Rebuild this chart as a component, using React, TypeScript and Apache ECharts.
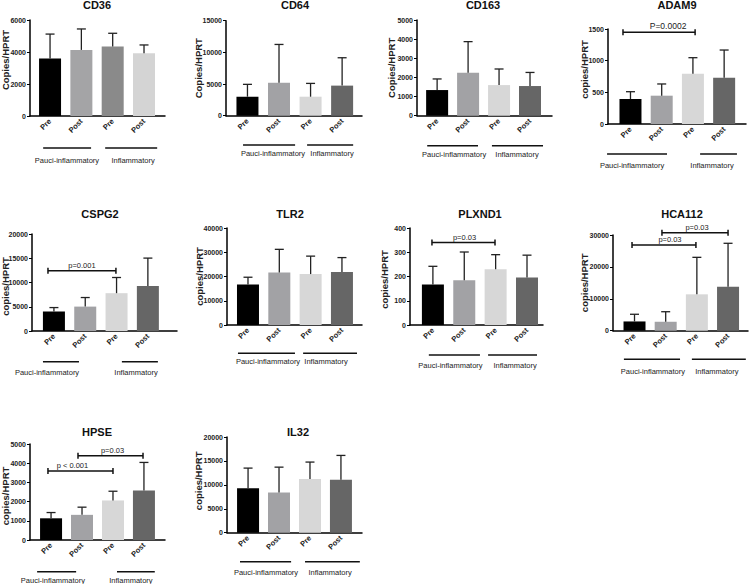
import React, { useEffect, useRef } from "react";
import * as echarts from "echarts";

// ---------- data ----------
const PANELS = ["CD36", "CD64", "CD163", "ADAM9", "CSPG2", "TLR2", "PLXND1", "HCA112", "HPSE", "IL32"];
const CATEGORIES = ["Pre", "Post", "Pre", "Post"];
const GROUPS = ["Pauci-inflammatory", "Inflammatory"];
const Y_NAMES = [
  "Copies/HPRT", "Copies/HPRT", "Copies/HPRT", "copies/HPRT", "copies/HPRT",
  "copies/HPRT", "copies/HPRT", "copies/HPRT", "copies/HPRT", "copies/HPRT",
];
const Y_MAX = [6000, 15000, 5000, 1500, 20000, 40000, 400, 30000, 5000, 20000];
const Y_STEP = [2000, 5000, 1000, 500, 5000, 10000, 100, 10000, 1000, 5000];

const CD36_MEAN = [3600, 4130, 4350, 3920];
const CD36_SD = [1520, 1310, 820, 520];
const CD64_MEAN = [3000, 5200, 3000, 4750];
const CD64_SD = [1950, 6050, 2100, 4400];
const CD163_MEAN = [1340, 2250, 1600, 1550];
const CD163_SD = [580, 1620, 840, 710];
const ADAM9_MEAN = [395, 447, 795, 732];
const ADAM9_SD = [115, 185, 252, 436];
const CSPG2_MEAN = [4000, 5030, 7800, 9300];
const CSPG2_SD = [830, 1870, 3230, 5730];
const TLR2_MEAN = [16700, 21600, 21000, 21900];
const TLR2_SD = [3000, 9600, 7400, 5900];
const PLXND1_MEAN = [167, 185, 230, 196];
const PLXND1_SD = [75, 116, 60, 92];
const HCA112_MEAN = [2900, 2800, 11400, 13800];
const HCA112_SD = [2250, 3150, 11600, 13600];
const HPSE_MEAN = [1130, 1310, 2060, 2580];
const HPSE_SD = [300, 400, 480, 1460];
const IL32_MEAN = [9300, 8400, 11200, 11050];
const IL32_SD = [4200, 5300, 3560, 5100];

// significance brackets: [from, to, height, label]
const ADAM9_SIG: [number, number, number, string][] = [[-0.24, 2.07, 1448, "P=0.0002"]];
const CSPG2_SIG: [number, number, number, string][] = [[-0.19, 1.98, 12400, "p=0.001"]];
const PLXND1_SIG: [number, number, number, string][] = [[-0.03, 1.98, 340, "p=0.03"]];
const HCA112_SIG: [number, number, number, string][] = [
  [-0.08, 1.97, 26900, "p=0.03"],
  [0.88, 3.0, 30700, "p=0.03"],
];
const HPSE_SIG: [number, number, number, string][] = [
  [-0.1, 2.0, 3600, "p < 0.001"],
  [0.87, 2.97, 4390, "p=0.03"],
];

const MEANS = [CD36_MEAN, CD64_MEAN, CD163_MEAN, ADAM9_MEAN, CSPG2_MEAN, TLR2_MEAN, PLXND1_MEAN, HCA112_MEAN, HPSE_MEAN, IL32_MEAN];
const SDS = [CD36_SD, CD64_SD, CD163_SD, ADAM9_SD, CSPG2_SD, TLR2_SD, PLXND1_SD, HCA112_SD, HPSE_SD, IL32_SD];
const SIGS = [[], [], [], ADAM9_SIG, CSPG2_SIG, [], PLXND1_SIG, HCA112_SIG, HPSE_SIG, []] as [number, number, number, string][][];

// ---------- layout / style ----------
const FONT = "'Liberation Sans', Arial, sans-serif";
const COLORS_A = ["#000000", "#a4a4a6", "#8a8a8a", "#d4d4d4"];
const COLORS_B = ["#000000", "#a2a2a5", "#d7d7d7", "#666666"];

type Lay = {
  l: number; r: number; t: number; b: number; min: number; max: number;
  tx: number; ty: number; ng: number; nUp: number; lines: number[][]; labels: number[];
  lineDy: number; labelDy: number; colors: string[]; sigFont: number; sigDx: number[];
};
const LAYOUT: Lay[] = [
  { l: 30, r: 165, t: 20, b: 116, min: -0.64, max: 3.67, tx: 97, ty: -1, ng: 19.5, nUp: 8, lines: [[-0.22, 1.31], [1.76, 3.42]], labels: [0.54, 2.65], lineDy: 32, labelDy: 44, colors: COLORS_A, sigFont: 7.5, sigDx: [] },
  { l: 226, r: 362, t: 20.7, b: 115.7, min: -0.68, max: 3.63, tx: 295, ty: -1, ng: 23, nUp: 0, lines: [[-0.14, 1.51], [1.89, 3.35]], labels: [0.81, 2.68], lineDy: 29.3, labelDy: 37.3, colors: COLORS_B, sigFont: 7.5, sigDx: [] },
  { l: 417, r: 552, t: 20, b: 115.7, min: -0.65, max: 3.71, tx: 483, ty: -1, ng: 21, nUp: 0, lines: [[-0.32, 1.32], [1.77, 3.42]], labels: [0.55, 2.58], lineDy: 30, labelDy: 38.3, colors: COLORS_B, sigFont: 7.5, sigDx: [] },
  { l: 608, r: 746, t: 29, b: 124, min: -0.72, max: 3.7, tx: 677, ty: -1, ng: 18.5, nUp: 7, lines: [[-0.75, 1.17], [2.23, 3.41]], labels: [0.05, 2.61], lineDy: 30, labelDy: 41, colors: COLORS_B, sigFont: 8.5, sigDx: [9] },
  { l: 32, r: 177, t: 234, b: 331, min: -0.7, max: 3.93, tx: 100, ty: 208, ng: 21.5, nUp: -4, lines: [[-0.35, 0.8], [2.17, 3.32]], labels: [-0.22, 2.62], lineDy: 30.7, labelDy: 41, colors: COLORS_B, sigFont: 7.5, sigDx: [0] },
  { l: 227, r: 362, t: 228, b: 325, min: -0.67, max: 3.64, tx: 290, ty: 208, ng: 22.5, nUp: 0, lines: [[-0.32, 1.5], [1.76, 3.48]], labels: [0.64, 2.49], lineDy: 28.3, labelDy: 36.7, colors: COLORS_B, sigFont: 7.5, sigDx: [] },
  { l: 410, r: 543, t: 228, b: 325, min: -0.73, max: 3.51, tx: 480, ty: 208, ng: 20.5, nUp: -3, lines: [[-0.13, 1.5], [1.76, 3.32]], labels: [0.56, 2.62], lineDy: 30, labelDy: 40, colors: COLORS_B, sigFont: 7.5, sigDx: [1] },
  { l: 613, r: 748, t: 235, b: 330.7, min: -0.69, max: 3.64, tx: 682, ty: 208, ng: 23.5, nUp: 0, lines: [[-0.34, 1.46], [1.84, 3.57]], labels: [0.59, 2.64], lineDy: 28.6, labelDy: 41, colors: COLORS_B, sigFont: 7.5, sigDx: [6, 2] },
  { l: 30, r: 165, t: 444, b: 540, min: -0.68, max: 3.68, tx: 97, ty: 426, ng: 19.5, nUp: -4, lines: [[-0.45, 0.81], [2.13, 3.35]], labels: [0.06, 2.58], lineDy: 31.7, labelDy: 40, colors: COLORS_B, sigFont: 7.5, sigDx: [-8, 2] },
  { l: 227, r: 362, t: 437, b: 532.7, min: -0.68, max: 3.68, tx: 298, ty: 426, ng: 23.5, nUp: 4, lines: [[-0.26, 1.39], [1.84, 3.61]], labels: [0.58, 2.65], lineDy: 29, labelDy: 40, colors: COLORS_B, sigFont: 7.5, sigDx: [] },
];

function buildOption() {
  const grid: any[] = [];
  const xAxis: any[] = [];
  const yAxis: any[] = [];
  const series: any[] = [];
  const title: any[] = [];

  PANELS.forEach((name, i) => {
    const L = LAYOUT[i];
    title.push({
      text: name, left: L.tx, top: L.ty, textAlign: "center", padding: 0,
      textStyle: { fontSize: 11, fontWeight: "bold", color: "#111", fontFamily: FONT },
    });
    grid.push({
      left: L.l, top: L.t, width: L.r - L.l, height: L.b - L.t,
      containLabel: false, outerBoundsMode: "none",
    });
    xAxis.push({
      gridIndex: i, type: "value", min: L.min, max: L.max,
      axisLine: { show: true, onZero: false, lineStyle: { color: "#000", width: 1.5 } },
      axisTick: { show: false }, splitLine: { show: false },
      axisLabel: {
        customValues: [0, 1, 2, 3],
        formatter: (v: number) => CATEGORIES[Math.round(v)] ?? "",
        rotate: 45, fontSize: 7.5, fontWeight: "bold", color: "#222", margin: 4, fontFamily: FONT,
      },
    });
    const up = L.nUp;
    yAxis.push({
      gridIndex: i, type: "value", min: 0, max: Y_MAX[i], interval: Y_STEP[i],
      axisLine: { show: true, onZero: false, lineStyle: { color: "#000", width: 1.5 } },
      axisTick: { show: true, length: 3, lineStyle: { color: "#000", width: 1 } },
      splitLine: { show: false },
      axisLabel: { fontSize: 7, fontWeight: "bold", color: "#222", margin: 4, fontFamily: FONT, formatter: (v: number) => String(v) },
      name: Y_NAMES[i], nameLocation: "middle", nameRotate: 90, nameGap: L.ng, nameMoveOverlap: false,
      nameTextStyle: {
        fontSize: 9.5, fontWeight: "bold", color: "#222", fontFamily: FONT,
        padding: up >= 0 ? [0, 0, 0, 2 * up] : [0, -2 * up, 0, 0],
      },
    });

    const means = MEANS[i];
    const sds = SDS[i];
    series.push({
      type: "bar", xAxisIndex: i, yAxisIndex: i, barWidth: 22, silent: true, z: 2,
      data: means.map((v, j) => ({ value: [j, v], itemStyle: { color: L.colors[j] } })),
    });
    series.push({
      type: "custom", xAxisIndex: i, yAxisIndex: i, clip: false, silent: true, z: 3,
      encode: { x: 0, y: [1, 2] },
      data: means.map((v, j) => [j, v, v + sds[j]]),
      renderItem: (_p: any, api: any) => {
        const p0 = api.coord([api.value(0), api.value(1)]);
        const p1 = api.coord([api.value(0), api.value(2)]);
        const st = { stroke: "#222", lineWidth: 1.3 };
        return {
          type: "group",
          children: [
            { type: "line", shape: { x1: p0[0], y1: p0[1], x2: p1[0], y2: p1[1] }, style: st },
            { type: "line", shape: { x1: p1[0] - 4.5, y1: p1[1], x2: p1[0] + 4.5, y2: p1[1] }, style: st },
          ],
        };
      },
    });

    const sigs = SIGS[i];
    if (sigs.length) {
      series.push({
        type: "custom", xAxisIndex: i, yAxisIndex: i, clip: false, silent: true, z: 4,
        encode: { x: [0, 1], y: 2 },
        data: sigs.map((s) => [s[0], s[1], s[2]]),
        renderItem: (p: any, api: any) => {
          const a = api.coord([api.value(0), api.value(2)]);
          const b = api.coord([api.value(1), api.value(2)]);
          const st = { stroke: "#111", lineWidth: 1.5 };
          const dx = L.sigDx[p.dataIndex] || 0;
          return {
            type: "group",
            children: [
              { type: "line", shape: { x1: a[0], y1: a[1], x2: b[0], y2: b[1] }, style: st },
              { type: "line", shape: { x1: a[0], y1: a[1] - 3, x2: a[0], y2: a[1] + 3 }, style: st },
              { type: "line", shape: { x1: b[0], y1: b[1] - 3, x2: b[0], y2: b[1] + 3 }, style: st },
              {
                type: "text", x: (a[0] + b[0]) / 2 + dx, y: a[1] - 1.5,
                style: { text: sigs[p.dataIndex][3], fill: "#222", fontSize: L.sigFont, fontFamily: FONT, align: "center", verticalAlign: "bottom" },
              },
            ],
          };
        },
      });
    }

    series.push({
      type: "custom", xAxisIndex: i, yAxisIndex: i, clip: false, silent: true, z: 4,
      encode: { x: [0, 1, 2], y: 3 },
      data: GROUPS.map((_g, k) => [L.lines[k][0], L.lines[k][1], L.labels[k], 0]),
      renderItem: (p: any, api: any) => {
        const a = api.coord([api.value(0), 0]);
        const b = api.coord([api.value(1), 0]);
        const c = api.coord([api.value(2), 0]);
        return {
          type: "group",
          children: [
            { type: "line", shape: { x1: a[0], y1: a[1] + L.lineDy, x2: b[0], y2: b[1] + L.lineDy }, style: { stroke: "#111", lineWidth: 1.5 } },
            {
              type: "text", x: c[0], y: c[1] + L.labelDy,
              style: { text: GROUPS[p.dataIndex], fill: "#222", fontSize: 7.5, fontFamily: FONT, align: "center", verticalAlign: "middle" },
            },
          ],
        };
      },
    });
  });

  return {
    animation: false,
    backgroundColor: "#ffffff",
    textStyle: { fontFamily: FONT },
    title, grid, xAxis, yAxis, series,
  };
}

export default function App() {
  const ref = useRef<HTMLDivElement>(null);
  useEffect(() => {
    if (!ref.current) return;
    const chart = echarts.init(ref.current, null, { renderer: "svg" });
    chart.setOption(buildOption() as any);
    return () => chart.dispose();
  }, []);
  return (
    <div
      ref={ref}
      style={{ position: "fixed", left: 0, top: 0, width: 750, height: 584, background: "#fff" }}
    />
  );
}
